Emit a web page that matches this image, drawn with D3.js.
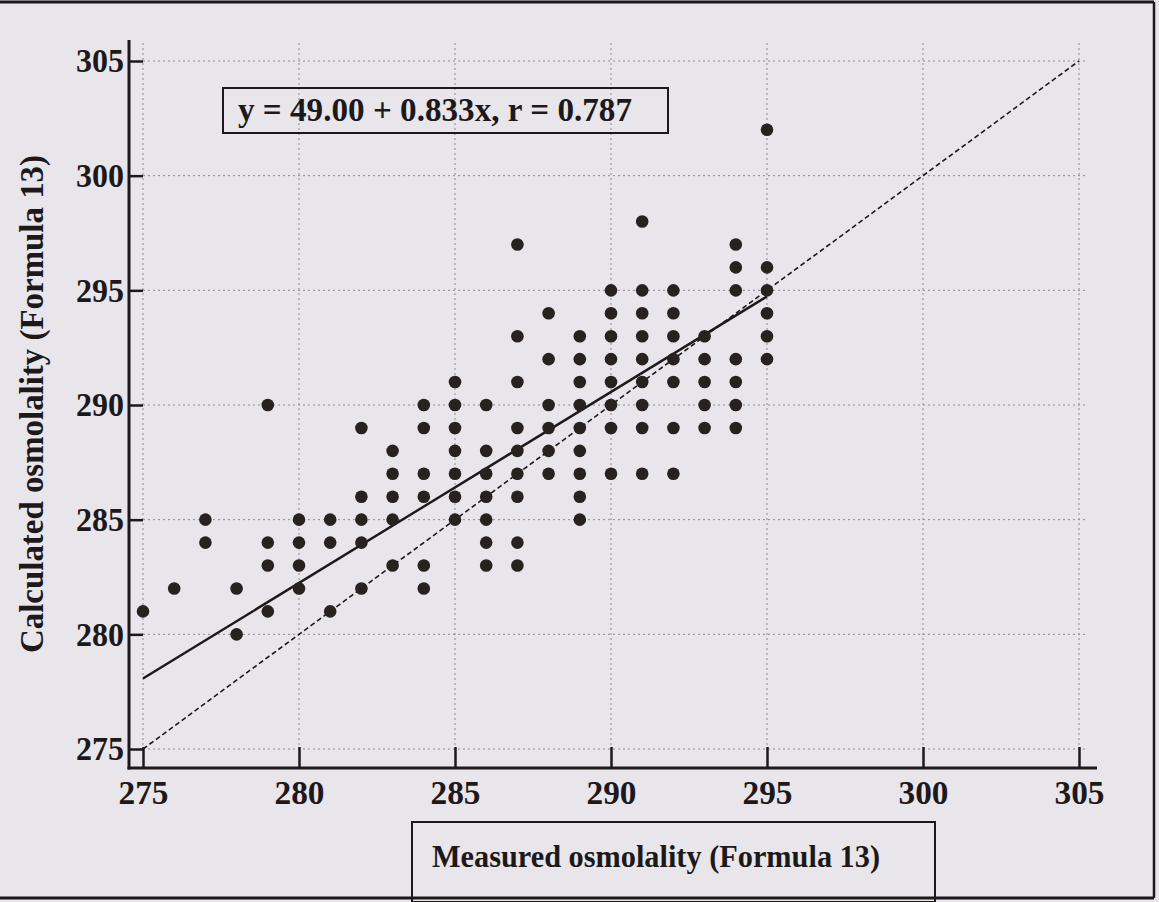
<!DOCTYPE html>
<html>
<head>
<meta charset="utf-8">
<script src="https://cdn.jsdelivr.net/npm/d3@7"></script>
<style>
html,body{margin:0;padding:0;background:#e8e6eb;}
svg{display:block;}
text{font-family:"Liberation Serif","Times New Roman",serif;font-weight:bold;fill:#1d191b;}
</style>
</head>
<body>
<svg id="chart" width="1159" height="902"></svg>
<script>
// ---- data ----
const measured = [
  275,
  276,
  277,277,
  278,278,
  279,279,279,279,
  280,280,280,280,
  281,281,281,
  282,282,282,282,282,
  283,283,283,283,283,
  284,284,284,284,284,284,
  285,285,285,285,285,285,285,
  286,286,286,286,286,286,286,
  287,287,287,287,287,287,287,287,287,
  288,288,288,288,288,288,
  289,289,289,289,289,289,289,289,289,
  290,290,290,290,290,290,290,290,
  291,291,291,291,291,291,291,291,291,
  292,292,292,292,292,292,292,
  293,293,293,293,293,
  294,294,294,294,294,294,294,
  295,295,295,295,295,295
];
const calculated = [
  281,
  282,
  285,284,
  282,280,
  290,284,283,281,
  285,284,283,282,
  285,284,281,
  289,286,285,284,282,
  288,287,286,285,283,
  290,289,287,286,283,282,
  291,290,289,288,287,286,285,
  290,288,287,286,285,284,283,
  297,293,291,289,288,287,286,284,283,
  294,292,290,289,288,287,
  293,292,291,290,289,288,287,286,285,
  295,294,293,292,291,290,289,287,
  298,295,294,293,292,291,290,289,287,
  295,294,293,292,291,289,287,
  293,292,291,290,289,
  297,296,295,292,291,290,289,
  302,296,295,294,293,292
];
const xTicks = [275,280,285,290,295,300,305];
const yTicks = [275,280,285,290,295,300,305];
const intercept = 49.00, slope = 0.833, rValue = 0.787;
const regressionRange = [275, 295];
const identityRange = [275, 305];
const xTitle = "Measured osmolality (Formula 13)";
const yTitle = "Calculated osmolality (Formula 13)";

// ---- layout ----
const svg = d3.select("#chart");
const ink = "#1d191b";
const x = d3.scaleLinear().domain([275,305]).range([143,1079]);
const y = d3.scaleLinear().domain([275,305]).range([749,61]);
const axisX = 129, axisY = 768;

// outer frame lines
svg.append("line").attr("x1",0).attr("x2",1154).attr("y1",2).attr("y2",2).attr("stroke",ink).attr("stroke-width",3);
svg.append("line").attr("x1",1154).attr("x2",1154).attr("y1",2).attr("y2",898).attr("stroke",ink).attr("stroke-width",2.5);
svg.append("line").attr("x1",0).attr("x2",1154).attr("y1",898).attr("y2",898).attr("stroke",ink).attr("stroke-width",3);

// grid
const grid = svg.append("g").attr("stroke","#8e8a90").attr("stroke-width",1).attr("stroke-dasharray","2,3");
grid.selectAll("line.v").data(xTicks).join("line").attr("class","v")
  .attr("x1",d=>x(d)).attr("x2",d=>x(d)).attr("y1",y(305)-18).attr("y2",y(275));
grid.selectAll("line.h").data(yTicks).join("line").attr("class","h")
  .attr("x1",x(275)).attr("x2",x(305)+8).attr("y1",d=>y(d)).attr("y2",d=>y(d));

// axes
const gy = svg.append("g").attr("transform",`translate(${axisX},0)`)
  .call(d3.axisLeft(y).tickValues(yTicks).tickSizeInner(-(x(275)-axisX)).tickSizeOuter(0).tickPadding(5).tickFormat(d3.format("d")));
gy.select(".domain").remove();
gy.selectAll(".tick line").attr("stroke",ink).attr("stroke-width",2.5);
gy.selectAll(".tick text").style("font-size","34px").attr("fill",ink)
  .attr("textLength",48).attr("lengthAdjust","spacingAndGlyphs");
svg.append("line").attr("x1",axisX).attr("x2",axisX).attr("y1",40).attr("y2",axisY+1.5).attr("stroke",ink).attr("stroke-width",3);

const gx = svg.append("g").attr("transform",`translate(0,${axisY})`)
  .call(d3.axisBottom(x).tickValues(xTicks).tickSizeInner(-(axisY-y(275)+2)).tickSizeOuter(0).tickPadding(12).tickFormat(d3.format("d")));
gx.select(".domain").remove();
gx.selectAll(".tick line").attr("stroke",ink).attr("stroke-width",2.5);
gx.selectAll(".tick text").style("font-size","34px").attr("fill",ink)
  .attr("textLength",50).attr("lengthAdjust","spacingAndGlyphs");
svg.append("line").attr("x1",axisX-1.5).attr("x2",1097).attr("y1",axisY).attr("y2",axisY).attr("stroke",ink).attr("stroke-width",3);

// identity line (dashed)
svg.append("line")
  .attr("x1",x(identityRange[0])).attr("y1",y(identityRange[0]))
  .attr("x2",x(identityRange[1])).attr("y2",y(identityRange[1]))
  .attr("stroke",ink).attr("stroke-width",1.6).attr("stroke-dasharray","5,3");

// regression line
svg.append("line")
  .attr("x1",x(regressionRange[0])).attr("y1",y(intercept+slope*regressionRange[0]))
  .attr("x2",x(regressionRange[1])).attr("y2",y(intercept+slope*regressionRange[1]))
  .attr("stroke",ink).attr("stroke-width",2.4);

// points
svg.append("g").selectAll("circle").data(measured.map((m,i)=>[m,calculated[i]])).join("circle")
  .attr("cx",d=>x(d[0])).attr("cy",d=>y(d[1])).attr("r",6.3).attr("fill","#27221f");

// equation box
svg.append("rect").attr("x",223).attr("y",88).attr("width",445).attr("height",45)
  .attr("fill","none").attr("stroke",ink).attr("stroke-width",2);
svg.append("text").attr("x",238).attr("y",121).style("font-size","34px")
  .attr("textLength",394).attr("lengthAdjust","spacingAndGlyphs")
  .text(`y = ${intercept.toFixed(2)} + ${slope.toFixed(3)}x, r = ${rValue.toFixed(3)}`);

// x title box
svg.append("rect").attr("x",412).attr("y",822).attr("width",523).attr("height",80)
  .attr("fill","none").attr("stroke",ink).attr("stroke-width",2);
svg.append("text").attr("x",432).attr("y",867).style("font-size","32px")
  .attr("textLength",448).attr("lengthAdjust","spacingAndGlyphs").text(xTitle);

// y title
svg.append("text").attr("transform","translate(43,404) rotate(-90)").attr("text-anchor","middle")
  .style("font-size","33px").attr("textLength",498).attr("lengthAdjust","spacingAndGlyphs").text(yTitle);
</script>
</body>
</html>
